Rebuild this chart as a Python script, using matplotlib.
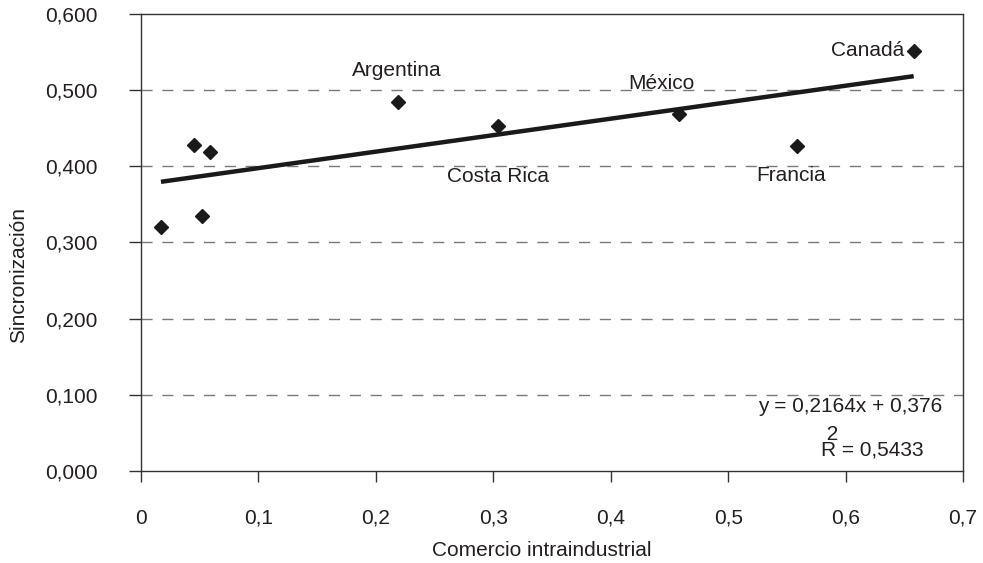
import matplotlib
matplotlib.use("Agg")
import matplotlib.pyplot as plt

plt.rcParams['font.family'] = ['Liberation Sans', 'DejaVu Sans']

# Intra-industry trade vs. business-cycle synchronisation
comercio = [0.017, 0.045, 0.059, 0.052, 0.219, 0.304, 0.458, 0.559, 0.658]
sincronizacion = [0.321, 0.428, 0.419, 0.335, 0.485, 0.453, 0.469, 0.427, 0.552]

# Labelled countries: (name, x, y) of the label
etiquetas = ["Argentina", "Costa Rica", "México", "Francia", "Canadá"]
etiqueta_x = [0.2175, 0.304, 0.443, 0.554, 0.6187]
etiqueta_y = [0.526, 0.386, 0.509, 0.388, 0.552]

# Linear trend
pendiente = 0.2164
intercepto = 0.376
r2 = 0.5433

xticks = [0, 0.1, 0.2, 0.3, 0.4, 0.5, 0.6, 0.7]
xtick_labels = ["0", "0,1", "0,2", "0,3", "0,4", "0,5", "0,6", "0,7"]
yticks = [0.0, 0.1, 0.2, 0.3, 0.4, 0.5, 0.6]
ytick_labels = ["0,000", "0,100", "0,200", "0,300", "0,400", "0,500", "0,600"]

TXT = "#231f20"
FS = 15

fig = plt.figure(figsize=(9.83, 5.63), dpi=100)
ax = fig.add_axes([141 / 983, 1 - 471 / 563, 822 / 983, 457 / 563])

ax.set_xlim(0, 0.7)
ax.set_ylim(0, 0.6)

# dashed horizontal gridlines
for y in yticks[1:-1]:
    ax.axhline(y, color="#7a7a7a", lw=1.0, ls=(0, (8, 7)), zorder=1)

# trend line over the data range
x0, x1 = min(comercio), max(comercio)
ax.plot([x0, x1], [pendiente * x0 + intercepto, pendiente * x1 + intercepto],
        color="#1a1a1a", lw=3.2, solid_capstyle="butt", zorder=2)

ax.plot(comercio, sincronizacion, ls="none", marker="D", ms=7.3,
        color="#1a1a1a", zorder=3)

for nombre, tx, ty in zip(etiquetas, etiqueta_x, etiqueta_y):
    ax.text(tx, ty, nombre, ha="center", va="center", fontsize=FS, color=TXT)

# regression equation and R² (exponent set as a raised line over the R)
ecuacion = "y = {:.4f}x + {:.3f}".format(pendiente, intercepto).replace(".", ",")
ax.text(0.604, 0.0853, ecuacion, ha="center", va="center", fontsize=FS, color=TXT)
texto_r2 = " 2\nR = " + "{:.4f}".format(r2).replace(".", ",")
ax.text(0.5787, 0.0197, texto_r2, ha="left", va="baseline", fontsize=FS,
        color=TXT, linespacing=0.8, multialignment="left")

ax.set_xticks(xticks)
ax.set_xticklabels(xtick_labels)
ax.set_yticks(yticks)
ax.set_yticklabels(ytick_labels)
ax.tick_params(axis="x", direction="out", length=8, width=1, pad=19,
               labelsize=FS, colors="#333333", labelcolor=TXT)
ax.tick_params(axis="y", direction="out", length=9, width=1, pad=22,
               labelsize=FS, colors="#333333", labelcolor=TXT)

for s in ax.spines.values():
    s.set_color("#333333")
    s.set_linewidth(1.0)

ax.set_xlabel("Comercio intraindustrial", fontsize=FS, color=TXT, va="center")
ax.xaxis.set_label_coords(0.488, -0.1729)
ax.set_ylabel("Sincronización", fontsize=FS, color=TXT, va="center")
ax.yaxis.set_label_coords(-0.1484, 0.428)

fig.savefig("out.png", dpi=100, facecolor="white")
